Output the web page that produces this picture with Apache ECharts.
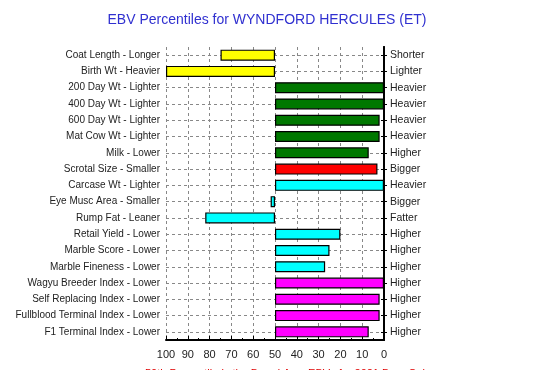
<!DOCTYPE html>
<html>
<head>
<meta charset="utf-8">
<script src="https://cdn.jsdelivr.net/npm/echarts@6/dist/echarts.min.js"></script>
<style>
html,body{margin:0;padding:0;background:#fff;}
#c{width:550px;height:370px;}
</style>
</head>
<body>
<div id="c"></div>
<script>
var categories = [
  'Coat Length - Longer','Birth Wt - Heavier','200 Day Wt - Lighter','400 Day Wt - Lighter',
  '600 Day Wt - Lighter','Mat Cow Wt - Lighter','Milk - Lower','Scrotal Size - Smaller',
  'Carcase Wt - Lighter','Eye Musc Area - Smaller','Rump Fat - Leaner','Retail Yield - Lower',
  'Marble Score - Lower','Marble Fineness - Lower','Wagyu Breeder Index - Lower',
  'Self Replacing Index - Lower','Fullblood Terminal Index - Lower','F1 Terminal Index - Lower'
];
var rightLabels = [
  'Shorter','Lighter','Heavier','Heavier','Heavier','Heavier','Higher','Bigger',
  'Heavier','Bigger','Fatter','Higher','Higher','Higher','Higher','Higher','Higher','Higher'
];
var percentiles = [75, 100, 0, 0, 2, 2, 7, 3, 0, 52, 82, 20, 25, 27, 0, 2, 2, 7];
var traitGroups = ['calving','calving','growth','growth','growth','growth','growth','fertility',
  'carcase','carcase','carcase','carcase','carcase','carcase','index','index','index','index'];
var xTicks = [0, 10, 20, 30, 40, 50, 60, 70, 80, 90, 100];
var breedAverage = 50;
var titleText = 'EBV Percentiles for WYNDFORD HERCULES (ET)';
var footText = '50th Percentile is the Breed Avg. EBVs for 2021 Born Calves';

var groupColors = {calving:'#ffff00', growth:'#007800', fertility:'#ff0000', carcase:'#00ffff', index:'#ff00ff'};

var baseData = percentiles.map(function(v){ return Math.min(v, breedAverage); });
var barData = percentiles.map(function(v, i){
  return { value: Math.abs(v - breedAverage),
    itemStyle: { color: groupColors[traitGroups[i]] } };
});

var chart = echarts.init(document.getElementById('c'), null, {renderer:'canvas'});
var font = 'Liberation Sans, Arial, sans-serif';
chart.setOption({
  animation: false,
  backgroundColor: '#fff',
  title: [{
    text: titleText, left: 262, top: 8, textAlign: 'center',
    textStyle: {color: '#3030d0', fontSize: 14, fontWeight: 'normal', fontFamily: font}
  },{
    text: footText, left: 140, top: 363,
    textStyle: {color: '#e00000', fontSize: 11, fontWeight: 'normal', fontFamily: font}
  }],
  grid: {left: 166, right: 166, top: 47, bottom: 30},
  xAxis: {
    type: 'value', min: xTicks[0], max: xTicks[xTicks.length-1], interval: 10, inverse: true,
    axisLine: {show: true, lineStyle: {color: '#000', width: 2}},
    axisTick: {show: true, inside: true, length: 4, lineStyle: {color: '#000'}},
    minorTick: {show: true, splitNumber: 2, length: 2, lineStyle: {color: '#000'}},
    axisLabel: {color: '#222', fontSize: 11, fontFamily: font, margin: 9},
    splitLine: {show: true, lineStyle: {color: '#888', type: [3,3], width: 1}}
  },
  yAxis: [{
    type: 'category', data: categories, inverse: true, position: 'left',
    axisLine: {show: true, lineStyle: {color: '#000', width: 2}},
    axisTick: {show: true, alignWithLabel: true, length: 3, lineStyle: {color: '#000'}},
    axisLabel: {color: '#222', fontSize: 10, fontFamily: font, margin: 6},
    splitLine: {show: true, alignWithLabel: true, lineStyle: {color: '#888', type: [3,3], width: 1}}
  },{
    type: 'category', data: rightLabels, inverse: true, position: 'right',
    axisLine: {show: true, lineStyle: {color: '#000', width: 2}},
    axisTick: {show: true, alignWithLabel: true, length: 3, lineStyle: {color: '#000'}},
    axisLabel: {color: '#222', fontSize: 10.5, fontFamily: font, margin: 6},
    splitLine: {show: false}
  }],
  series: [{
    type: 'bar', stack: 'ebv', yAxisIndex: 0, data: baseData, barWidth: 11,
    itemStyle: {color: 'rgba(0,0,0,0)'}, silent: true
  },{
    type: 'bar', stack: 'ebv', yAxisIndex: 0, data: barData, barWidth: 11,
    itemStyle: {borderColor: '#000', borderWidth: 1.2}
  }]
});
</script>
</body>
</html>
